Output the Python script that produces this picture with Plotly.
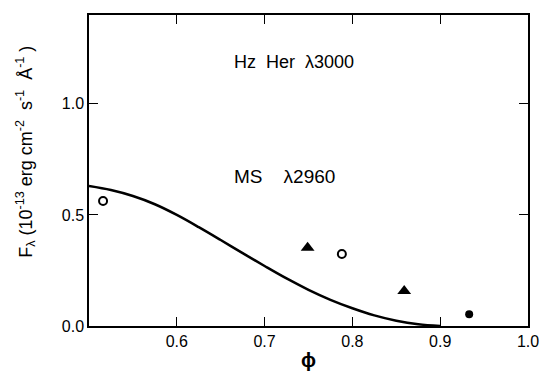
import plotly.graph_objects as go

# Model curve (MS lambda2960)
curve_phi = [0.50, 0.525, 0.55, 0.575, 0.60, 0.625, 0.65, 0.675, 0.70, 0.725, 0.75, 0.775, 0.80, 0.825, 0.85, 0.875, 0.90]
curve_f = [0.630, 0.612, 0.585, 0.548, 0.500, 0.445, 0.387, 0.328, 0.270, 0.214, 0.163, 0.118, 0.080, 0.048, 0.024, 0.008, 0.0]

# Observations
open_phi = [0.516, 0.788]
open_f = [0.563, 0.324]
tri_phi = [0.749, 0.859]
tri_f = [0.352, 0.158]
fill_phi = [0.933]
fill_f = [0.053]

x_ticks = [0.6, 0.7, 0.8, 0.9, 1.0]
y_ticks = [0.0, 0.5, 1.0]

FONT = "Liberation Sans, Arial, sans-serif"

fig = go.Figure()
fig.add_trace(go.Scatter(x=curve_phi, y=curve_f, mode="lines",
                         line=dict(color="black", width=2.5, shape="spline", smoothing=1.0),
                         showlegend=False, hoverinfo="skip"))
fig.add_trace(go.Scatter(x=open_phi, y=open_f, mode="markers",
                         marker=dict(symbol="circle-open", size=8, color="black", line=dict(width=2)),
                         showlegend=False))
fig.add_trace(go.Scatter(x=tri_phi, y=tri_f, mode="markers",
                         marker=dict(symbol="triangle-up", size=12, color="black"),
                         showlegend=False))
fig.add_trace(go.Scatter(x=fill_phi, y=fill_f, mode="markers",
                         marker=dict(symbol="circle", size=8, color="black"),
                         showlegend=False))

fig.add_annotation(x=0.6625, y=1.19, xref="x", yref="y", text="Hz&nbsp;&nbsp;Her&nbsp;&nbsp;λ3000",
                   showarrow=False, xanchor="left", yanchor="middle",
                   font=dict(family=FONT, size=18, color="black"))
fig.add_annotation(x=0.6625, y=0.675, xref="x", yref="y", text="MS&nbsp;&nbsp;&nbsp;&nbsp;λ2960",
                   showarrow=False, xanchor="left", yanchor="middle",
                   font=dict(family=FONT, size=19, color="black"))
# y-axis title as a rotated annotation
fig.add_annotation(x=-0.1435, y=0.56, xref="paper", yref="paper",
                   text="F<sub>λ</sub> (10<sup>-13</sup>&nbsp;erg&nbsp;cm<sup>-2</sup>&nbsp;&nbsp;s<sup>-1</sup>&nbsp;&nbsp;Å<sup>-1</sup>&nbsp;)",
                   textangle=-90, showarrow=False, xanchor="center", yanchor="middle",
                   font=dict(family=FONT, size=18, color="black"))

fig.update_xaxes(range=[0.5, 1.0], tickvals=x_ticks, ticktext=["0.6", "0.7", "0.8", "0.9", "1.0"],
                 ticks="inside", ticklen=9, tickwidth=1.3, tickcolor="black",
                 showline=True, linecolor="black", linewidth=1.5, mirror="ticks",
                 showgrid=False, zeroline=False, automargin=False,
                 tickfont=dict(family=FONT, size=16, color="black"),
                 title=dict(text="<b>ϕ</b>", font=dict(family=FONT, size=20, color="black"), standoff=4))
fig.update_yaxes(range=[0, 1.4], tickvals=y_ticks, ticktext=["0.0", "0.5", "1.0"],
                 ticks="inside", ticklen=9, tickwidth=1.3, tickcolor="black",
                 showline=True, linecolor="black", linewidth=1.5, mirror="ticks",
                 showgrid=False, zeroline=False, automargin=False,
                 tickfont=dict(family=FONT, size=16, color="black"))

fig.update_layout(width=540, height=371, margin=dict(l=89, r=12, t=15, b=45, autoexpand=False),
                  plot_bgcolor="white", paper_bgcolor="white")

fig.write_html("out.html", config={"displayModeBar": False},
               post_script="document.body.style.margin='0';document.body.style.padding='0';")
